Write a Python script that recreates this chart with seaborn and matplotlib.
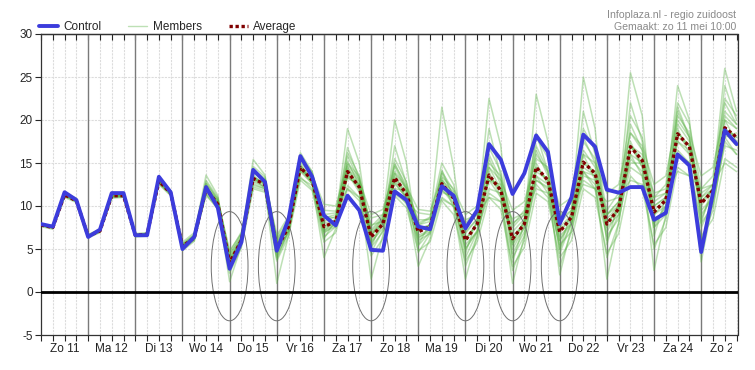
import numpy as np
import pandas as pd
import matplotlib
matplotlib.use('Agg')
import matplotlib.pyplot as plt
import matplotlib.transforms as mtransforms
from matplotlib.patches import Ellipse, Rectangle
from matplotlib.lines import Line2D
import seaborn as sns

# 6-hourly steps, in days from Zo 11 00:00
steps = np.arange(60) / 4.0

day_labels = ['Zo 11', 'Ma 12', 'Di 13', 'Wo 14', 'Do 15', 'Vr 16', 'Za 17', 'Zo 18',
              'Ma 19', 'Di 20', 'Wo 21', 'Do 22', 'Vr 23', 'Za 24', 'Zo 25']

control = [7.9, 7.6, 11.6, 10.7, 6.4, 7.25, 11.5, 11.5, 6.6, 6.6, 13.4, 11.6,
           5.0, 6.4, 12.2, 9.8, 2.7, 5.8, 14.2, 12.8, 4.8, 8.5, 15.8, 13.4,
           8.9, 7.75, 11.2, 9.5, 4.9, 4.8, 11.7, 10.7, 7.6, 7.3, 12.3, 11.2,
           7.4, 9.5, 17.2, 15.4, 11.4, 13.8, 18.2, 16.3, 7.95, 11.0, 18.3, 16.9,
           11.9, 11.55, 12.2, 12.2, 8.4, 9.2, 16.0, 14.7, 4.65, 11.5, 18.8, 17.2]

average = [7.8, 7.5, 11.3, 10.6, 6.5, 7.1, 11.2, 11.2, 6.6, 6.7, 12.9, 11.5,
           5.3, 6.3, 12.0, 10.2, 3.4, 6.0, 13.2, 12.5, 5.0, 7.6, 14.5, 13.0,
           7.6, 8.2, 14.0, 12.2, 6.4, 7.9, 13.3, 11.4, 7.0, 7.6, 12.6, 10.9,
           6.0, 7.9, 13.6, 11.8, 6.2, 7.9, 14.5, 13.0, 7.0, 8.7, 15.1, 13.8,
           7.9, 9.7, 16.9, 15.3, 9.3, 10.7, 18.4, 16.9, 10.3, 11.8, 19.1, 18.0]

members = [
    [7.9, 7.7, 11.6, 10.9, 6.7, 7.3, 11.6, 11.4, 6.8, 6.9, 13.3, 11.8,
     5.6, 6.7, 13.0, 11.0, 3.8, 6.5, 14.6, 13.4, 5.6, 8.4, 15.6, 14.0,
     8.6, 9.0, 16.2, 13.5, 7.2, 8.8, 15.5, 12.8, 8.0, 8.7, 15.0, 12.5,
     7.2, 9.4, 16.8, 14.0, 7.8, 9.5, 18.0, 15.6, 8.6, 10.4, 19.0, 16.5,
     9.5, 11.5, 20.5, 18.0, 11.0, 12.5, 22.0, 19.5, 12.0, 13.5, 22.5, 20.5],
    [7.6, 7.3, 11.0, 10.4, 6.3, 6.9, 10.9, 11.0, 6.4, 6.5, 12.5, 11.2,
     4.8, 5.9, 11.4, 9.6, 2.2, 5.2, 12.0, 11.6, 3.6, 6.5, 13.0, 11.8,
     5.8, 6.9, 12.0, 10.6, 4.2, 6.2, 11.2, 9.8, 4.8, 5.8, 10.6, 9.0,
     3.6, 5.8, 11.0, 9.6, 3.0, 5.2, 11.5, 10.5, 4.0, 6.0, 12.0, 11.0,
     4.5, 6.8, 13.5, 12.0, 5.5, 7.5, 14.5, 13.5, 6.5, 8.5, 15.5, 14.5],
    [7.8, 7.6, 11.5, 10.7, 6.6, 7.2, 11.4, 11.3, 6.7, 6.8, 13.2, 11.7,
     5.5, 6.6, 13.6, 11.2, 3.2, 6.4, 15.4, 13.6, 4.4, 8.0, 16.2, 14.0,
     7.0, 8.5, 19.0, 15.0, 5.2, 8.5, 20.0, 15.0, 5.5, 8.0, 21.5, 14.5,
     4.5, 8.5, 22.5, 17.0, 3.5, 8.0, 23.0, 17.5, 5.0, 9.5, 25.0, 19.0,
     5.5, 10.5, 25.5, 20.5, 6.5, 11.0, 24.0, 20.0, 8.0, 12.5, 26.0, 21.0],
    [7.7, 7.5, 11.2, 10.5, 6.5, 7.1, 11.1, 11.1, 6.6, 6.7, 12.7, 11.4,
     5.6, 6.2, 11.4, 10.0, 4.4, 6.4, 12.4, 12.0, 6.2, 8.0, 13.2, 12.4,
     9.5, 9.4, 12.0, 11.0, 8.6, 9.0, 11.4, 10.4, 9.2, 9.0, 10.8, 10.0,
     8.4, 9.0, 11.0, 10.5, 8.5, 9.2, 12.0, 11.5, 9.0, 9.8, 12.5, 12.0,
     10.5, 11.0, 13.0, 12.5, 11.0, 11.5, 14.0, 13.5, 12.0, 12.5, 15.0, 14.0],
    [7.8, 7.4, 11.4, 10.6, 6.4, 7.0, 11.3, 11.2, 6.5, 6.6, 13.0, 11.4,
     5.0, 6.0, 12.4, 10.0, 1.2, 5.4, 13.4, 12.0, 1.0, 6.6, 14.6, 12.6,
     4.0, 7.4, 14.6, 11.8, 1.5, 6.6, 13.8, 10.8, 3.0, 6.2, 13.0, 9.8,
     1.5, 6.5, 14.0, 11.0, 1.0, 6.5, 15.0, 12.5, 2.0, 7.5, 16.0, 13.0,
     1.5, 8.0, 17.5, 14.5, 2.5, 9.0, 19.0, 16.0, 3.5, 10.5, 20.0, 17.5],
    [7.9, 7.6, 11.2, 10.7, 6.6, 7.2, 11.3, 11.3, 6.7, 6.8, 12.8, 11.5,
     5.4, 6.4, 12.2, 10.6, 4.0, 6.2, 13.0, 12.8, 5.4, 7.4, 14.0, 13.4,
     8.8, 8.6, 13.2, 12.6, 7.8, 8.2, 12.0, 11.8, 8.4, 8.4, 11.6, 11.0,
     6.8, 8.5, 15.5, 12.5, 7.5, 9.0, 17.0, 14.0, 8.5, 9.5, 16.5, 14.5,
     9.0, 10.0, 15.0, 15.0, 11.5, 12.0, 19.5, 17.5, 11.5, 12.5, 20.0, 19.0],
    [7.7, 7.4, 11.3, 10.5, 6.4, 7.0, 11.0, 11.1, 6.5, 6.6, 12.6, 11.3,
     5.1, 6.1, 11.8, 9.8, 3.0, 5.6, 12.6, 12.0, 4.6, 7.2, 14.2, 12.6,
     7.2, 7.8, 15.2, 12.4, 5.8, 7.4, 12.8, 10.8, 6.4, 7.0, 12.0, 10.2,
     5.0, 7.0, 12.0, 11.5, 5.5, 7.5, 13.5, 12.5, 6.5, 8.0, 14.0, 12.5,
     7.5, 9.0, 17.0, 14.5, 8.0, 9.5, 17.5, 16.0, 9.5, 11.0, 18.5, 17.0],
    [7.8, 7.5, 11.4, 10.6, 6.5, 7.1, 11.2, 11.2, 6.6, 6.8, 12.9, 11.6,
     5.8, 6.9, 12.6, 10.8, 4.6, 7.0, 13.8, 13.0, 6.6, 8.8, 15.0, 13.6,
     10.2, 10.0, 14.8, 13.0, 9.0, 9.6, 14.0, 12.2, 9.6, 9.4, 13.4, 12.0,
     9.0, 10.0, 14.5, 13.0, 9.5, 10.5, 15.5, 14.5, 10.0, 11.0, 16.0, 15.0,
     11.5, 12.5, 18.5, 17.0, 12.5, 13.5, 20.5, 18.5, 13.5, 14.5, 21.0, 19.5],
    [7.8, 7.5, 11.1, 10.6, 6.5, 7.0, 11.0, 11.1, 6.6, 6.7, 12.7, 11.4,
     5.2, 6.2, 11.6, 10.4, 3.6, 5.8, 13.6, 12.4, 4.2, 7.0, 14.8, 12.8,
     6.2, 8.4, 16.8, 13.2, 6.0, 7.8, 17.0, 12.6, 6.2, 7.4, 13.8, 11.2,
     6.0, 8.0, 19.0, 13.5, 5.0, 7.5, 18.5, 14.0, 6.0, 8.5, 21.0, 16.0,
     7.0, 9.5, 22.0, 17.5, 7.5, 10.0, 21.0, 18.0, 9.0, 11.0, 24.0, 20.0],
    [7.9, 7.6, 11.5, 10.8, 6.6, 7.3, 11.5, 11.4, 6.7, 6.7, 13.1, 11.6,
     5.3, 6.4, 12.4, 10.2, 2.6, 6.2, 13.2, 12.6, 4.8, 7.8, 14.8, 13.0,
     7.4, 8.0, 13.6, 12.0, 6.8, 8.2, 12.6, 11.0, 7.4, 7.8, 11.8, 10.8,
     8.0, 9.5, 13.0, 12.0, 5.8, 8.2, 13.0, 12.2, 5.0, 8.0, 13.5, 13.0,
     8.0, 9.5, 15.5, 14.0, 9.0, 10.0, 16.0, 15.0, 7.5, 10.5, 17.0, 16.5],
    [7.7, 7.5, 11.2, 10.5, 6.4, 7.1, 11.2, 11.1, 6.5, 6.6, 12.8, 11.4,
     5.2, 6.3, 11.8, 10.4, 3.8, 6.1, 12.8, 12.2, 5.8, 7.8, 14.4, 12.8,
     8.0, 8.4, 13.4, 12.4, 6.6, 8.6, 14.6, 11.8, 6.6, 7.2, 13.2, 11.0,
     4.0, 7.0, 14.5, 12.0, 4.5, 7.0, 13.0, 12.0, 6.0, 8.0, 14.0, 13.5,
     8.5, 10.0, 17.0, 16.0, 10.0, 11.0, 18.0, 17.0, 10.5, 12.0, 18.0, 18.5],
    [7.8, 7.5, 11.3, 10.6, 6.5, 7.1, 11.2, 11.2, 6.6, 6.7, 12.9, 11.5,
     5.4, 6.4, 12.2, 10.4, 3.6, 6.2, 13.4, 12.6, 5.2, 7.6, 14.4, 13.2,
     7.6, 8.2, 14.2, 12.4, 6.6, 8.0, 13.4, 11.6, 7.2, 7.8, 12.8, 11.0,
     6.2, 8.0, 13.5, 12.0, 6.5, 8.0, 14.5, 13.0, 7.0, 8.8, 15.0, 14.0,
     8.0, 9.8, 17.0, 15.5, 9.5, 10.8, 18.5, 17.0, 10.5, 12.0, 19.0, 18.0],
    [7.8, 7.6, 11.4, 10.7, 6.5, 7.2, 11.3, 11.3, 6.6, 6.7, 13.0, 11.5,
     5.2, 6.5, 12.6, 10.6, 3.0, 6.4, 14.0, 13.0, 4.0, 7.2, 15.8, 13.4,
     6.8, 8.0, 15.8, 13.0, 5.6, 7.8, 15.0, 12.0, 4.6, 6.8, 14.2, 11.0,
     5.0, 7.2, 16.0, 13.0, 5.5, 8.5, 16.5, 13.5, 4.5, 8.0, 18.0, 15.0,
     6.0, 9.0, 19.5, 16.5, 8.0, 10.0, 21.5, 18.0, 8.5, 11.5, 22.0, 19.5],
    [7.7, 7.5, 11.3, 10.6, 6.5, 7.1, 11.2, 11.2, 6.6, 6.7, 12.8, 11.4,
     5.5, 6.3, 11.2, 9.8, 3.4, 5.8, 12.2, 11.8, 4.8, 7.0, 13.4, 12.0,
     7.0, 7.6, 12.4, 11.0, 5.2, 7.0, 12.0, 10.2, 6.0, 6.8, 11.0, 10.0,
     5.5, 7.0, 11.5, 10.5, 4.0, 6.5, 12.5, 11.0, 5.5, 7.0, 13.0, 12.0,
     6.5, 8.5, 14.5, 13.5, 7.5, 9.0, 16.0, 15.0, 8.0, 10.0, 17.5, 16.0],
    [7.9, 7.6, 11.4, 10.7, 6.6, 7.2, 11.3, 11.3, 6.7, 6.8, 13.0, 11.6,
     5.4, 6.5, 12.8, 10.8, 4.2, 6.8, 14.2, 13.2, 6.0, 8.2, 15.2, 13.8,
     9.0, 9.2, 15.0, 13.4, 7.6, 9.0, 14.8, 12.4, 7.8, 8.6, 14.0, 11.8,
     7.5, 9.0, 15.0, 13.5, 8.0, 9.0, 16.0, 14.0, 8.0, 9.5, 17.5, 15.5,
     9.0, 10.5, 18.5, 16.5, 10.5, 11.5, 20.0, 18.0, 11.0, 12.5, 20.5, 19.0],
    [7.8, 7.5, 11.2, 10.6, 6.5, 7.1, 11.1, 11.2, 6.6, 6.6, 12.8, 11.5,
     5.1, 6.2, 12.0, 10.0, 2.8, 5.8, 13.0, 12.2, 3.8, 7.0, 14.0, 12.6,
     6.4, 7.6, 13.8, 11.6, 4.6, 7.2, 13.0, 11.0, 5.4, 7.0, 12.4, 10.4,
     3.0, 6.5, 13.0, 11.0, 2.5, 6.0, 13.5, 11.5, 3.0, 7.0, 14.0, 12.0,
     4.0, 8.0, 16.0, 13.5, 5.0, 8.5, 16.5, 15.0, 6.0, 9.5, 18.0, 16.0],
    [7.8, 7.5, 11.5, 10.6, 6.5, 7.1, 11.4, 11.3, 6.6, 6.7, 13.1, 11.6,
     5.6, 6.6, 12.2, 10.6, 4.8, 6.8, 13.0, 12.8, 6.4, 8.4, 14.6, 13.6,
     8.2, 8.8, 14.4, 12.8, 7.0, 8.6, 13.8, 12.0, 7.8, 8.2, 13.0, 11.6,
     7.0, 8.5, 13.0, 12.5, 7.0, 8.5, 14.0, 13.0, 7.5, 9.0, 14.5, 13.5,
     9.0, 10.5, 16.0, 15.0, 10.0, 11.0, 17.5, 16.5, 11.0, 12.0, 18.5, 17.5],
    [7.8, 7.5, 11.3, 10.6, 6.5, 7.1, 11.2, 11.2, 6.6, 6.7, 12.9, 11.5,
     5.3, 6.3, 12.0, 10.2, 3.4, 6.0, 13.4, 12.4, 5.0, 7.6, 14.4, 13.0,
     7.6, 8.2, 14.0, 12.2, 6.6, 8.0, 13.2, 11.4, 7.0, 7.6, 12.6, 11.0,
     6.0, 8.0, 13.5, 11.8, 6.0, 8.0, 14.5, 13.0, 7.0, 8.8, 15.0, 13.8,
     8.0, 9.8, 17.0, 15.0, 9.0, 10.5, 18.5, 17.0, 10.0, 12.0, 19.0, 18.0],
]

# marked nights (day boundaries)
marked_days = [4, 5, 7, 9, 10, 11]

members_df = pd.DataFrame({
    'dag': np.tile(steps, len(members)),
    'temp': np.concatenate(members),
    'member': np.repeat(np.arange(len(members)), len(steps)),
})
main_df = pd.DataFrame({'dag': steps, 'control': control, 'average': average})

sns.set_style('white')
plt.rcParams['font.family'] = ['Liberation Sans', 'DejaVu Sans']
plt.rcParams['axes.unicode_minus'] = False

fig = plt.figure(figsize=(7.55, 3.70), dpi=100)
ax = fig.add_axes([41 / 755, 1 - 335 / 370, 696.5 / 755, 301 / 370])

# grid
for y in range(-5, 31, 5):
    ax.axhline(y, color='#dcdcdc', lw=0.8, ls=(0, (2, 1)), zorder=0)
for q in np.arange(0, 15, 0.25):
    if q % 1 != 0:
        ax.axvline(q, color='#dcdcdc', lw=0.8, ls=(0, (2, 1)), zorder=0)
for d in range(1, 15):
    ax.axvline(d, color='#7a7a7a', lw=1.0, zorder=1)

sns.lineplot(data=members_df, x='dag', y='temp', units='member', estimator=None,
             color='#5cb347', alpha=0.4, lw=1.1, ax=ax, zorder=2)

for d in marked_days:
    ax.add_patch(Ellipse((d, 3.0), 0.78, 12.7, fill=False, edgecolor='#707070',
                         lw=0.7, zorder=3))

ax.axhline(0, color='black', lw=2.0, zorder=4)

sns.lineplot(data=main_df, x='dag', y='average', color='#800000', lw=2.4,
             ls=(0, (1.0, 0.8)), ax=ax, zorder=5)
sns.lineplot(data=main_df, x='dag', y='control', color='#3c3cdc', lw=2.8,
             ax=ax, zorder=6)

ax.set_xlim(0, 14.77)
ax.set_ylim(-5, 30)
ax.set_xlabel('')
ax.set_ylabel('')
ax.set_yticks(range(-5, 31, 5))
ax.set_xticks(np.arange(0, 14.8, 0.25))
ax.set_xticklabels([])
ax.tick_params(axis='y', direction='out', length=4, width=0.8, labelsize=8.5,
               pad=2, left=True)
ax.tick_params(axis='x', direction='out', length=4, width=0.8, bottom=True)
top = ax.secondary_xaxis('top')
top.set_xticks(np.arange(0, 14.8, 0.25))
top.set_xticklabels([])
top.tick_params(direction='in', length=4, width=0.8)
for s in list(ax.spines.values()) + [top.spines['top']]:
    s.set_color('#333333')
    s.set_linewidth(0.9)

# day labels under the axis, cut at the right edge like the original
trans = mtransforms.blended_transform_factory(ax.transData, ax.transAxes)
clip = Rectangle((0, 0), 732 / 755, 1, transform=fig.transFigure,
                 facecolor='none', edgecolor='none')
fig.add_artist(clip)
for i, lab in enumerate(day_labels):
    t = ax.text(i + 0.5, -0.045, lab, transform=trans, ha='center', va='center',
                fontsize=8.5, color='#222222', clip_on=True)
    t.set_clip_path(clip)

handles = [Line2D([], [], color='#3c3cdc', lw=2.8),
           Line2D([], [], color='#5cb347', alpha=0.4, lw=1.0),
           Line2D([], [], color='#800000', lw=2.4, ls=(0, (1.0, 0.8)))]
fig.legend(handles, ['Control', 'Members', 'Average'], loc='center left',
           bbox_to_anchor=(39 / 755, 1 - 27 / 370), ncol=3, frameon=False,
           fontsize=8.5, handlelength=1.6, handletextpad=0.45,
           columnspacing=2.3, borderpad=0, borderaxespad=0)

fig.text(736 / 755, 1 - 15 / 370, 'Infoplaza.nl - regio zuidoost', ha='right',
         va='center', fontsize=7.6, color='#8a8a8a')
fig.text(736 / 755, 1 - 27 / 370, 'Gemaakt: zo 11 mei 10:00', ha='right',
         va='center', fontsize=7.6, color='#8a8a8a')

fig.savefig('out.png', dpi=100, facecolor='white')
